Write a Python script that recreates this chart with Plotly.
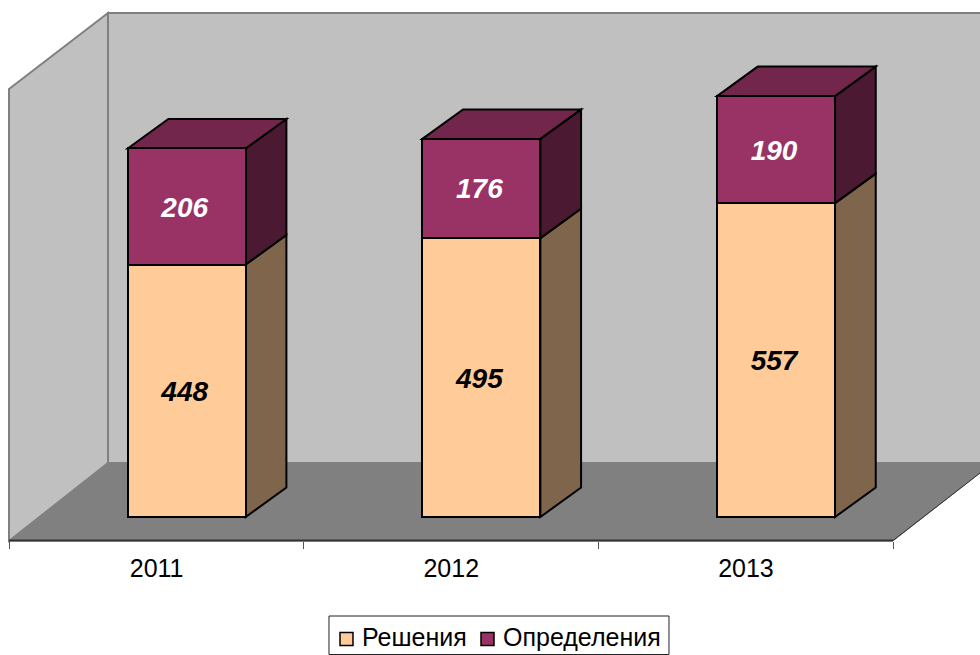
import plotly.graph_objects as go

categories = ["2011", "2012", "2013"]
tick_positions = [0, 1, 2]
boundary_ticks = [-0.5, 0.5, 1.5, 2.5]
solutions = [448, 495, 557]
rulings = [206, 176, 190]
series_names = ["Решения", "Определения"]

W, H = 980, 655
PX_PER_CAT = 294.67
PX_PER_VAL = 0.5635
X0_PX = 156.6
Y0_PX = 517
BAR_SHIFT = 30.1 / PX_PER_CAT
BAR_W = 118 / PX_PER_CAT
DX = 40.7 / PX_PER_CAT
DY = 29.5 / PX_PER_VAL
LABEL_SHIFT = -2 / PX_PER_CAT
LABEL_DROP = 3 / PX_PER_VAL

ORANGE, ORANGE_SIDE = "#FFCC99", "#7F654C"
PURPLE, PURPLE_SIDE, PURPLE_TOP = "#993366", "#4C1933", "#72264C"
WALL, FLOOR, EDGE = "#C0C0C0", "#808080", "#808080"


def paper_path(points):
    return "M" + "L".join(f"{x / W:.5f},{1 - y / H:.5f}" for x, y in points) + "Z"


def data_path(points):
    return "M" + "L".join(f"{x:.4f},{y:.3f}" for x, y in points) + "Z"


def swatch(x0, x1, color):
    return dict(type="path", xref="paper", yref="paper", layer="above", fillcolor=color,
                line=dict(color="black", width=1.5),
                path=paper_path([(x0, 632.5), (x1, 632.5), (x1, 645.5), (x0, 645.5)]))


shapes = [
    dict(type="path", xref="paper", yref="paper", layer="below", fillcolor=WALL,
         line=dict(color=EDGE, width=2),
         path=paper_path([(9, 89), (108, 13), (108, 463), (9, 541)])),
    dict(type="path", xref="paper", yref="paper", layer="below", fillcolor=WALL,
         line=dict(color=EDGE, width=2),
         path=paper_path([(108, 13), (983, 13), (983, 463), (108, 463)])),
    dict(type="path", xref="paper", yref="paper", layer="below", fillcolor=FLOOR,
         line=dict(color=FLOOR, width=1),
         path=paper_path([(9, 541), (108, 463), (980, 463), (980, 473), (893, 541)])),
    dict(type="path", xref="paper", yref="paper", layer="below", fillcolor="white",
         line=dict(color="#222222", width=1),
         path=paper_path([(329, 616), (669, 616), (669, 654.5), (329, 654.5)])),
    swatch(340, 353, ORANGE),
    swatch(481, 494, PURPLE),
]

for i, pos in enumerate(tick_positions):
    left = pos + BAR_SHIFT - BAR_W / 2
    right = pos + BAR_SHIFT + BAR_W / 2
    base = 0
    for value, side in ((solutions[i], ORANGE_SIDE), (rulings[i], PURPLE_SIDE)):
        top = base + value
        shapes.append(dict(type="path", xref="x", yref="y", layer="below", fillcolor=side,
                           line=dict(color="black", width=2),
                           path=data_path([(right, base), (right + DX, base + DY),
                                           (right + DX, top + DY), (right, top)])))
        base = top
    shapes.append(dict(type="path", xref="x", yref="y", layer="below", fillcolor=PURPLE_TOP,
                       line=dict(color="black", width=2),
                       path=data_path([(left, base), (left + DX, base + DY),
                                       (right + DX, base + DY), (right, base)])))

bar_x = [p + BAR_SHIFT for p in tick_positions]
label_x = [x + LABEL_SHIFT for x in bar_x]

fig = go.Figure()
fig.add_trace(go.Bar(x=bar_x, y=solutions, name=series_names[0], width=BAR_W, showlegend=False,
                     marker=dict(color=ORANGE, line=dict(color="black", width=2))))
fig.add_trace(go.Bar(x=bar_x, y=rulings, name=series_names[1], width=BAR_W, showlegend=False,
                     marker=dict(color=PURPLE, line=dict(color="black", width=2))))
fig.add_trace(go.Scatter(x=label_x, y=[v / 2 - LABEL_DROP for v in solutions],
                         text=[str(v) for v in solutions],
                         mode="text", showlegend=False, hoverinfo="skip",
                         textfont=dict(family="Liberation Sans", size=28, color="black",
                                       weight="bold", style="italic")))
fig.add_trace(go.Scatter(x=label_x, y=[s + r / 2 - LABEL_DROP for s, r in zip(solutions, rulings)],
                         text=[str(v) for v in rulings],
                         mode="text", showlegend=False, hoverinfo="skip",
                         textfont=dict(family="Liberation Sans", size=28, color="white",
                                       weight="bold", style="italic")))

legend_text = [
    dict(text=name, x=px / W, y=1 - 637 / H, xref="paper", yref="paper", xanchor="left",
         yanchor="middle", showarrow=False, xshift=-1,
         borderpad=0, font=dict(size=25, family="Liberation Sans", color="black"))
    for name, px in zip(series_names, (362, 503))
]

fig.update_layout(
    width=W, height=H, margin=dict(l=0, r=0, t=0, b=0, pad=0, autoexpand=False),
    autosize=False, showlegend=False,
    paper_bgcolor="white", plot_bgcolor="rgba(0,0,0,0)",
    barmode="stack", shapes=shapes, annotations=legend_text,
    font=dict(family="Liberation Sans", color="black"),
    xaxis=dict(range=[-X0_PX / PX_PER_CAT, (W - X0_PX) / PX_PER_CAT],
               anchor="free", position=1 - 540.5 / H, domain=[0, 1],
               showgrid=False, zeroline=False, showline=False,
               tickmode="array", tickvals=tick_positions, ticktext=categories,
               ticks="", ticklabelstandoff=10,
               tickfont=dict(size=25, family="Liberation Sans", color="black"),
               minor=dict(tickmode="array", tickvals=boundary_ticks, ticks="outside",
                          ticklen=7, tickwidth=1, tickcolor="#555555", showgrid=False)),
    yaxis=dict(range=[(Y0_PX - H) / PX_PER_VAL, Y0_PX / PX_PER_VAL], domain=[0, 1],
               visible=False),
)
fig.add_shape(type="line", xref="paper", yref="paper", x0=9 / W, x1=893 / W,
              y0=1 - 540.5 / H, y1=1 - 540.5 / H, line=dict(color="#333333", width=2), layer="above")
fig.add_shape(type="line", xref="paper", yref="paper", x0=893 / W, x1=980 / W,
              y0=1 - 540.5 / H, y1=1 - 473 / H, line=dict(color="#333333", width=1), layer="below")
fig.write_html("out.html", config={"displayModeBar": False},
               post_script="document.body.style.margin='0';document.body.style.overflow='hidden';")
